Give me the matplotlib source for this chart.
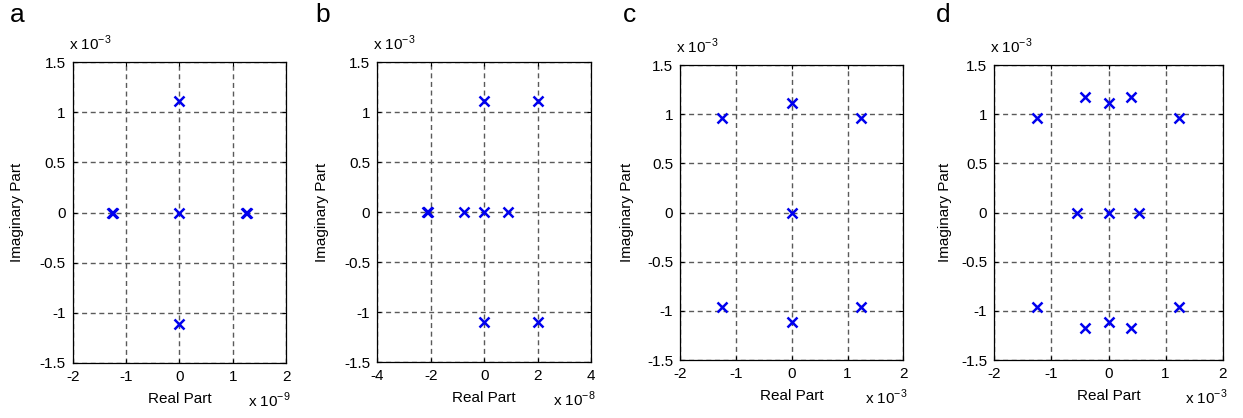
import numpy as np
import matplotlib
matplotlib.use('Agg')
import matplotlib.pyplot as plt
from matplotlib.ticker import FuncFormatter

plt.rcParams['font.family'] = ['Liberation Sans', 'DejaVu Sans']
plt.rcParams['axes.unicode_minus'] = False

W, H = 1243, 418

# pole locations (real part in units of the x multiplier, imag part in units of 1e-3)
a_re = [0, 0, -1.27, -1.25, 1.25, 1.27, 0]
a_im = [1.11, 0, 0, 0, 0, 0, -1.11]

b_re = [0, 2.0, -2.13, -2.10, -0.77, 0, 0.90, 0, 2.0]
b_im = [1.11, 1.11, 0, 0, 0, 0, 0, -1.10, -1.10]

c_re = [-1.25, 0, 1.24, 0, -1.25, 0, 1.24]
c_im = [0.96, 1.11, 0.96, 0, -0.96, -1.11, -0.96]

d_re = [-1.25, -0.41, 0, 0.40, 1.24, -0.55, 0, 0.53, -1.25, -0.41, 0, 0.40, 1.24]
d_im = [0.96, 1.17, 1.11, 1.17, 0.96, 0, 0, 0, -0.96, -1.17, -1.11, -1.17, -0.96]

panels = [
    ('a', a_re, a_im, 2, '-9', (72.7, 62, 286, 363)),
    ('b', b_re, b_im, 4, '-8', (377.3, 62, 591.3, 362)),
    ('c', c_re, c_im, 2, '-3', (680.3, 65, 903.3, 360)),
    ('d', d_re, d_im, 2, '-3', (994.3, 65, 1222.7, 360)),
]
letter_x = [10, 315, 623, 936]
ylab_x = [17, 322, 627, 945]

fig = plt.figure(figsize=(W / 100, H / 100), dpi=100)
fmt = FuncFormatter(lambda v, p: '%g' % v)
fs = 11

for i, (lab, re, im, xl, xexp, (x0, y0, x1, y1)) in enumerate(panels):
    ax = fig.add_axes([x0 / W, 1 - y1 / H, (x1 - x0) / W, (y1 - y0) / H])
    ax.plot(re, im, 'x', color='#0000ee', ms=6.5, mew=1.8, zorder=3)
    ax.set_xlim(-xl, xl)
    ax.set_ylim(-1.5, 1.5)
    ax.set_xticks(np.linspace(-xl, xl, 5))
    ax.set_yticks([-1.5, -1, -0.5, 0, 0.5, 1, 1.5])
    ax.xaxis.set_major_formatter(fmt)
    ax.yaxis.set_major_formatter(fmt)
    ax.grid(True, color='#5a5a5a', ls=(0, (3.6, 2.6)), lw=1.0)
    ax.tick_params(direction='in', length=3, top=True, right=True,
                   labelsize=fs, width=0.8, pad=5)
    for s in ax.spines.values():
        s.set_linewidth(0.9)
    ax.set_xlabel('Real Part', fontsize=fs, labelpad=6)
    fig.text(ylab_x[i] / W, 1 - ((y0 + y1) / 2) / H, 'Imaginary Part',
             rotation=90, ha='center', va='center', fontsize=fs)
    fig.text(letter_x[i] / W, 1 - 22 / H, lab, fontsize=19, va='baseline')
    fig.text((x0 - 4) / W, 1 - (y0 - 12) / H, r'x 10$^{\mathregular{-3}}$',
             fontsize=fs, va='baseline')
    fig.text((x1 - 38) / W, 1 - (y1 + 44) / H,
             r'x 10$^{\mathregular{%s}}$' % xexp, fontsize=fs, va='baseline')

fig.savefig('out.png', dpi=100)
